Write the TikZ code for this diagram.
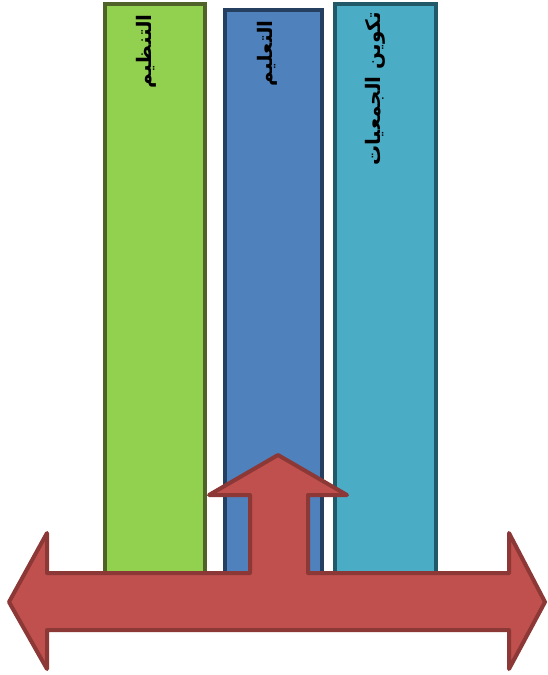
\documentclass[tikz,border=0pt]{standalone}
\usepackage{fontspec}
\newfontfamily\arabicfont[Script=Arabic]{DejaVu Sans}
\TeXXeTstate=1
\definecolor{gfill}{HTML}{92D050}
\definecolor{gline}{HTML}{4F6228}
\definecolor{bfill}{HTML}{4F81BD}
\definecolor{bline}{HTML}{243F60}
\definecolor{tfill}{HTML}{4BACC6}
\definecolor{tline}{HTML}{215968}
\definecolor{rfill}{HTML}{C0504D}
\definecolor{rline}{HTML}{8C3836}
\begin{document}
\begin{tikzpicture}[x=1pt,y=-1pt,
  bar/.style={draw, line width=4pt, rectangle, anchor=north west, inner sep=0pt},
  lbl/.style={rotate=90, anchor=east, font=\arabicfont\bfseries\fontsize{20}{24}\selectfont, inner sep=0pt}]
\useasboundingbox (0,0) rectangle (548,675);
\node[bar, fill=gfill, draw=gline, minimum width=100pt, minimum height=600pt] (g) at (103,2) {};
\node[bar, fill=bfill, draw=bline, minimum width=97pt, minimum height=590pt] (b) at (223,8) {};
\node[bar, fill=tfill, draw=tline, minimum width=101pt, minimum height=600pt] (t) at (333,2) {};
\node[lbl] (gl) at (146,14) {\beginR التنظيم\endR};
\node[lbl] (bl) at (267,20) {\beginR التعليم\endR};
\node[lbl] (tl) at (375,12) {\beginR تكوين الجمعيات\endR};
\draw[fill=rfill, draw=rline, line width=4pt, line join=round]
  (9,602) -- (47,533) -- (47,573) -- (250,573) -- (250,495) -- (209,495)
  -- (278,455) -- (347,495) -- (308,495) -- (308,573) -- (509,573)
  -- (509,533) -- (545,602) -- (509,669) -- (509,630) -- (47,630)
  -- (47,669) -- cycle;
\end{tikzpicture}
\end{document}
